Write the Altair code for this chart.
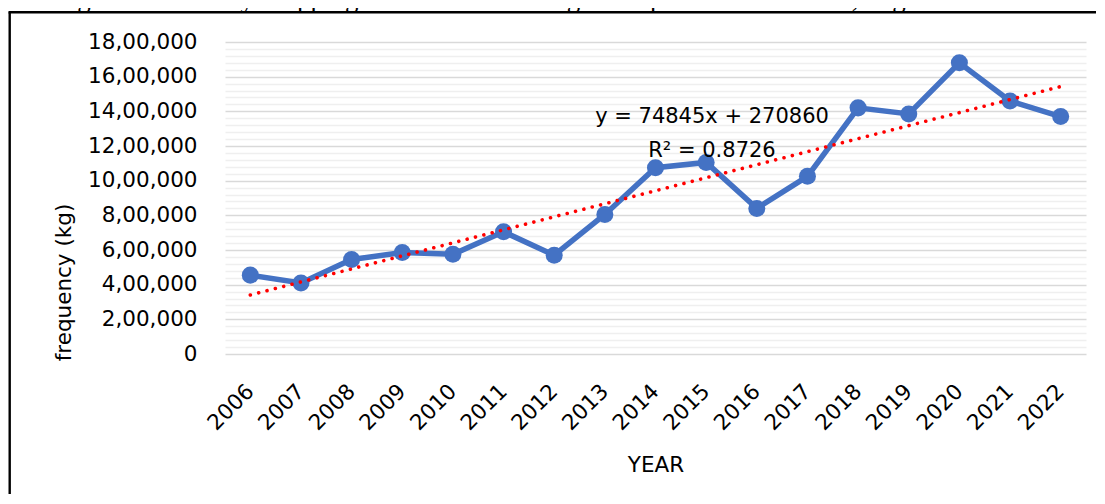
import altair as alt
import pandas as pd

# ---- data ----
years = list(range(2006, 2023))
freq = [455000, 410000, 545000, 585000, 575000, 705000, 570000, 805000,
        1075000, 1105000, 840000, 1025000, 1420000, 1385000, 1680000,
        1460000, 1370000]

y_minor_ticks = list(range(0, 1800001, 40000))
y_major_ticks = list(range(0, 1800001, 200000))
y_major_labels = ["0", "2,00,000", "4,00,000", "6,00,000", "8,00,000",
                  "10,00,000", "12,00,000", "14,00,000", "16,00,000",
                  "18,00,000"]

x_title = "YEAR"
y_title = "frequency (kg)"
equation_text = "y = 74845x + 270860"
r2_text = "R² = 0.8726"
caption_text = "of Garbage Generated by Shipping Pollution in the Lagos Seaports Environment, Nigeria"

FONT = "DejaVu Sans"
W, H = 861, 312
PAD = {"left": 217, "top": 34, "right": 10, "bottom": 140}

df = pd.DataFrame({"year": years, "freq": freq})

major_arr = "[" + ",".join(str(v) for v in y_major_ticks) + "]"
label_arr = "[" + ",".join("'" + s + "'" for s in y_major_labels) + "]"
label_expr = f"indexof({major_arr}, datum.value) >= 0 ? {label_arr}[indexof({major_arr}, datum.value)] : ''"

x_enc = alt.X("year:Q",
              scale=alt.Scale(domain=[2005.5, 2022.5], nice=False, zero=False),
              axis=alt.Axis(values=years, tickCount=40, format="d", labelAngle=315,
                            labelAlign="right", labelBaseline="middle",
                            labelPadding=34, ticks=False, tickSize=0,
                            domain=False, grid=False, labelFlush=False,
                            labelOverlap=False,
                            labelFont=FONT, labelFontSize=21.5,
                            labelColor="#000000",
                            title=x_title, titleFont=FONT, titleFontSize=21.5,
                            titleFontWeight="normal", titleColor="#000000",
                            titleY=111, titleBaseline="middle"))

y_enc = alt.Y("freq:Q",
              scale=alt.Scale(domain=[0, 1800000], nice=False),
              axis=alt.Axis(values=y_minor_ticks, tickCount=100,
                            labelExpr=label_expr,
                            labelOverlap=False, labelFlush=False,
                            ticks=False, tickSize=0, domain=False,
                            labelPadding=28, labelFont=FONT,
                            labelFontSize=21.5, labelColor="#000000",
                            grid=True, gridWidth=1.5,
                            gridColor=alt.condition(
                                f"indexof({major_arr}, datum.value) >= 0",
                                alt.value("#d9d9d9"), alt.value("#efefef")),
                            title=y_title, titleFont=FONT, titleFontSize=21.5,
                            titleFontWeight="normal", titleColor="#000000",
                            titleAngle=270, titleX=-161, titleY=240,
                            titleAlign="center", titleBaseline="middle"))

base = alt.Chart(df)

line = base.mark_line(color="#4472C4", strokeWidth=5.5).encode(x=x_enc, y=y_enc)
points = base.mark_circle(color="#4472C4", size=290, opacity=1).encode(x="year:Q", y="freq:Q")
trend = base.transform_regression("year", "freq", method="linear",
                                  extent=[2006, 2022]).mark_line(
    color="#FF0000", strokeWidth=3.6, strokeDash=[0.01, 8.6], strokeCap="round"
).encode(x="year:Q", y="freq:Q")

one = alt.Data(values=[{"k": 1}])
eq = alt.Chart(one).mark_text(font=FONT, fontSize=21, color="#000000",
                              align="center", baseline="middle").encode(
    x=alt.value(487), y=alt.value(75), text=alt.value(equation_text))
r2 = alt.Chart(one).mark_text(font=FONT, fontSize=21, color="#000000",
                              align="center", baseline="middle").encode(
    x=alt.value(487), y=alt.value(108.5), text=alt.value(r2_text))

caption = alt.Chart(one).mark_text(font="Liberation Serif", fontSize=27,
                                   color="#000000", align="left",
                                   baseline="alphabetic").encode(
    x=alt.value(-243), y=alt.value(-35), text=alt.value(caption_text))

border_left = alt.Chart(one).mark_rule(color="#000000", strokeWidth=2.4).encode(
    x=alt.value(-215.3), y=alt.value(-29.8), y2=alt.value(H + 160))
border_top = alt.Chart(one).mark_rule(color="#000000", strokeWidth=2.4).encode(
    x=alt.value(-216.5), x2=alt.value(W + 30), y=alt.value(-29.8))

chart = alt.layer(line, points, trend, eq, r2, caption, border_left, border_top).properties(
    width=W, height=H, padding=PAD,
    autosize=alt.AutoSizeParams(type="none"),
    background="#ffffff",
).configure_view(strokeWidth=0)

chart.save("out.html", embed_options={"renderer": "svg", "actions": False})
